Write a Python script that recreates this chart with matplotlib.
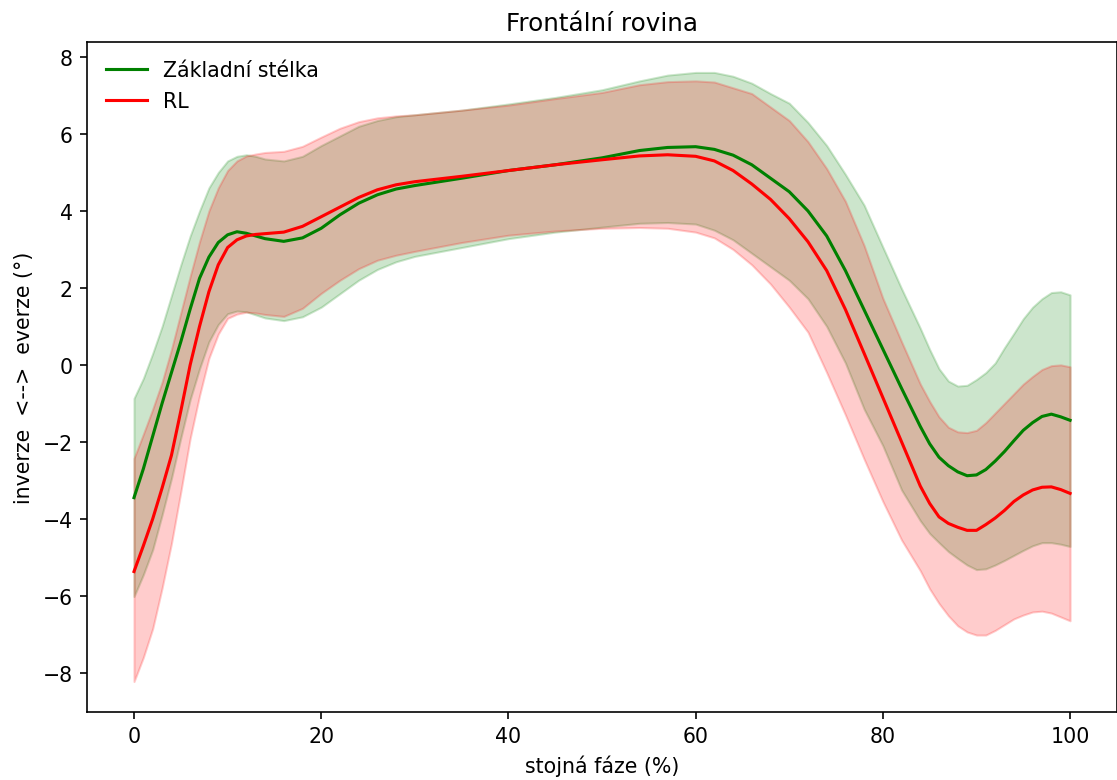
import numpy as np
import matplotlib.pyplot as plt

# stance phase (%)
faze = [0, 1, 2, 3, 4, 5, 6, 7, 8, 9, 10, 11, 12, 13, 14, 16, 18, 20, 22, 24,
        26, 28, 30, 35, 40, 45, 50, 54, 57, 60, 62, 64, 66, 68, 70, 72, 74, 76,
        78, 80, 82, 84, 85, 86, 87, 88, 89, 90, 91, 92, 93, 94, 95, 96, 97, 98,
        99, 100]

# Zakladni stelka - mean, mean+sd, mean-sd
zs_mean = [-3.45, -2.7, -1.85, -1.0, -0.2, 0.6, 1.45, 2.25, 2.8, 3.18, 3.38, 3.46,
           3.42, 3.35, 3.28, 3.21, 3.3, 3.55, 3.9, 4.2, 4.42, 4.57, 4.66, 4.85,
           5.05, 5.2, 5.38, 5.57, 5.65, 5.67, 5.6, 5.45, 5.2, 4.85, 4.5, 4.0,
           3.35, 2.45, 1.43, 0.41, -0.61, -1.6, -2.05, -2.4, -2.62, -2.78, -2.88,
           -2.86, -2.72, -2.5, -2.25, -1.97, -1.7, -1.5, -1.34, -1.28, -1.35, -1.44]
zs_upper = [-0.87, -0.35, 0.3, 1.0, 1.8, 2.6, 3.35, 4.0, 4.6, 5.0, 5.3, 5.42,
            5.46, 5.42, 5.35, 5.3, 5.42, 5.7, 5.95, 6.2, 6.35, 6.45, 6.5, 6.62,
            6.78, 6.95, 7.15, 7.38, 7.53, 7.6, 7.6, 7.5, 7.32, 7.05, 6.8, 6.3,
            5.7, 4.95, 4.15, 3.06, 1.98, 0.95, 0.4, -0.1, -0.42, -0.55, -0.53,
            -0.38, -0.2, 0.05, 0.45, 0.82, 1.2, 1.5, 1.72, 1.88, 1.9, 1.82]
zs_lower = [-6.02, -5.45, -4.8, -3.9, -2.95, -1.9, -0.9, -0.1, 0.6, 1.05, 1.33, 1.4,
            1.38, 1.3, 1.22, 1.15, 1.25, 1.5, 1.85, 2.2, 2.48, 2.68, 2.82, 3.05,
            3.28, 3.45, 3.58, 3.68, 3.7, 3.66, 3.5, 3.25, 2.9, 2.55, 2.2, 1.72,
            1.0, 0.05, -1.15, -2.1, -3.25, -4.05, -4.38, -4.62, -4.85, -5.03, -5.2,
            -5.32, -5.3, -5.2, -5.08, -4.95, -4.82, -4.7, -4.62, -4.62, -4.66, -4.72]

# RL - mean, mean+sd, mean-sd
rl_mean = [-5.37, -4.7, -4.0, -3.2, -2.35, -1.2, 0.0, 1.0, 1.9, 2.6, 3.05, 3.25,
           3.35, 3.39, 3.41, 3.45, 3.6, 3.85, 4.1, 4.35, 4.55, 4.68, 4.76, 4.9,
           5.05, 5.2, 5.33, 5.43, 5.46, 5.42, 5.3, 5.05, 4.7, 4.3, 3.8, 3.2,
           2.45, 1.44, 0.3, -0.85, -2.0, -3.15, -3.6, -3.95, -4.12, -4.22, -4.3,
           -4.3, -4.15, -3.98, -3.78, -3.55, -3.38, -3.25, -3.18, -3.17, -3.24, -3.34]
rl_upper = [-2.43, -1.8, -1.15, -0.45, 0.4, 1.35, 2.3, 3.2, 4.0, 4.6, 5.05, 5.3,
            5.43, 5.48, 5.52, 5.55, 5.68, 5.92, 6.15, 6.32, 6.42, 6.47, 6.5, 6.62,
            6.75, 6.92, 7.08, 7.28, 7.36, 7.38, 7.35, 7.2, 7.05, 6.7, 6.35, 5.8,
            5.1, 4.25, 3.1, 1.73, 0.6, -0.5, -0.95, -1.35, -1.62, -1.74, -1.76,
            -1.7, -1.5, -1.25, -1.0, -0.75, -0.5, -0.3, -0.12, -0.02, 0.0, -0.05]
rl_lower = [-8.23, -7.6, -6.85, -5.8, -4.64, -3.3, -1.91, -0.8, 0.17, 0.8, 1.21, 1.32,
            1.37, 1.35, 1.31, 1.26, 1.47, 1.86, 2.2, 2.5, 2.72, 2.85, 2.95, 3.18,
            3.37, 3.48, 3.55, 3.57, 3.55, 3.45, 3.3, 3.0, 2.6, 2.1, 1.5, 0.85,
            -0.2, -1.3, -2.45, -3.55, -4.55, -5.35, -5.82, -6.2, -6.52, -6.78, -6.94,
            -7.02, -7.02, -6.9, -6.75, -6.6, -6.5, -6.42, -6.4, -6.45, -6.55, -6.65]

fig, ax = plt.subplots(figsize=(7.554, 5.277), dpi=148)
fig.subplots_adjust(left=0.078, right=0.999, bottom=0.087, top=0.945)

# bands first (green under red gives the brown overlap)
ax.fill_between(faze, zs_lower, zs_upper, color='g', alpha=0.2)
ax.fill_between(faze, rl_lower, rl_upper, color='r', alpha=0.2)
ax.plot(faze, zs_mean, color='g', lw=1.5, label='Základní stélka')
ax.plot(faze, rl_mean, color='r', lw=1.5, label='RL')

ax.set_title('Frontální rovina')
ax.set_xlabel('stojná fáze (%)')
ax.set_ylabel('inverze  <-->  everze (°)')
ax.legend(loc='upper left', frameon=False)

plt.savefig('out.png')
